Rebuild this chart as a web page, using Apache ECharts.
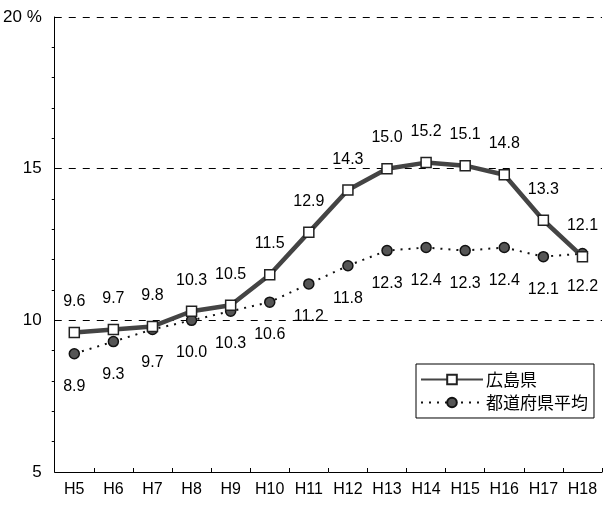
<!DOCTYPE html>
<html>
<head>
<meta charset="utf-8">
<script src="https://cdn.jsdelivr.net/npm/echarts@6/dist/echarts.min.js"></script>
<style>
  html, body { margin: 0; padding: 0; background: #fff; }
  #main { width: 613px; height: 513px; }
</style>
</head>
<body>
<div id="main"></div>
<script>
var years = ['H5', 'H6', 'H7', 'H8', 'H9', 'H10', 'H11', 'H12', 'H13', 'H14', 'H15', 'H16', 'H17', 'H18'];
var hiroshima = [9.6, 9.7, 9.8, 10.3, 10.5, 11.5, 12.9, 14.3, 15.0, 15.2, 15.1, 14.8, 13.3, 12.1];
var zenkoku = [8.9, 9.3, 9.7, 10.0, 10.3, 10.6, 11.2, 11.8, 12.3, 12.4, 12.3, 12.4, 12.1, 12.2];

var numFont = "'Liberation Sans', Arial, sans-serif";

var chartDom = document.getElementById('main');
var myChart = echarts.init(chartDom, null, { renderer: 'canvas' });
var option;

option = {
    animation: false,
    backgroundColor: '#fff',
    grid: {
        left: 42,
        right: 11,
        top: 17,
        bottom: 41
    },
    legend: {
        orient: 'vertical',
        left: 416,
        top: 364,
        padding: [7, 6, 7, 4],
        itemGap: 6,
        itemWidth: 62,
        itemHeight: 12,
        borderColor: '#000',
        borderWidth: 1,
        backgroundColor: '#fff',
        textStyle: {
            fontFamily: "'Noto Sans CJK JP', sans-serif",
            fontSize: 17,
            color: '#000',
            padding: [0, 0, 0, -2]
        },
        data: ['広島県', '都道府県平均']
    },
    xAxis: {
        type: 'category',
        data: years,
        boundaryGap: true,
        axisLine: { lineStyle: { color: '#000', width: 1 } },
        axisTick: { show: true, inside: true, length: 4, lineStyle: { color: '#000' } },
        axisLabel: {
            margin: 10,
            fontFamily: numFont,
            fontSize: 16,
            color: '#000'
        },
        splitLine: { show: false }
    },
    yAxis: {
        type: 'value',
        min: 5,
        max: 20,
        interval: 5,
        axisLine: { show: true, lineStyle: { color: '#000', width: 1 } },
        axisTick: { show: false },
        minorTick: { show: true, splitNumber: 5, length: 3, lineStyle: { color: '#000' } },
        axisLabel: {
            margin: 13,
            fontFamily: numFont,
            fontSize: 17,
            color: '#000',
            formatter: function (v) { return v === 20 ? '20 %' : v; }
        },
        splitLine: {
            show: true,
            lineStyle: { color: '#000', type: [7, 7], width: 1 }
        }
    },
    series: [
        {
            name: '広島県',
            type: 'line',
            data: hiroshima,
            symbol: 'rect',
            symbolSize: 10,
            z: 3,
            lineStyle: { color: '#444', width: 4.5 },
            itemStyle: { color: '#fff', borderColor: '#222', borderWidth: 1.5 },
            label: {
                show: true,
                position: 'top',
                distance: 17,
                fontFamily: numFont,
                fontSize: 16,
                color: '#000',
                formatter: function (p) { return p.value.toFixed(1); }
            }
        },
        {
            name: '都道府県平均',
            type: 'line',
            data: zenkoku,
            symbol: 'circle',
            symbolSize: 10,
            z: 2,
            lineStyle: { color: '#111', width: 2, type: [2, 6] },
            itemStyle: { color: '#555', borderColor: '#111', borderWidth: 1.5 },
            label: {
                show: true,
                position: 'bottom',
                distance: 19,
                fontFamily: numFont,
                fontSize: 16,
                color: '#000',
                formatter: function (p) { return p.value.toFixed(1); }
            }
        }
    ]
};

option && myChart.setOption(option);
</script>
</body>
</html>
